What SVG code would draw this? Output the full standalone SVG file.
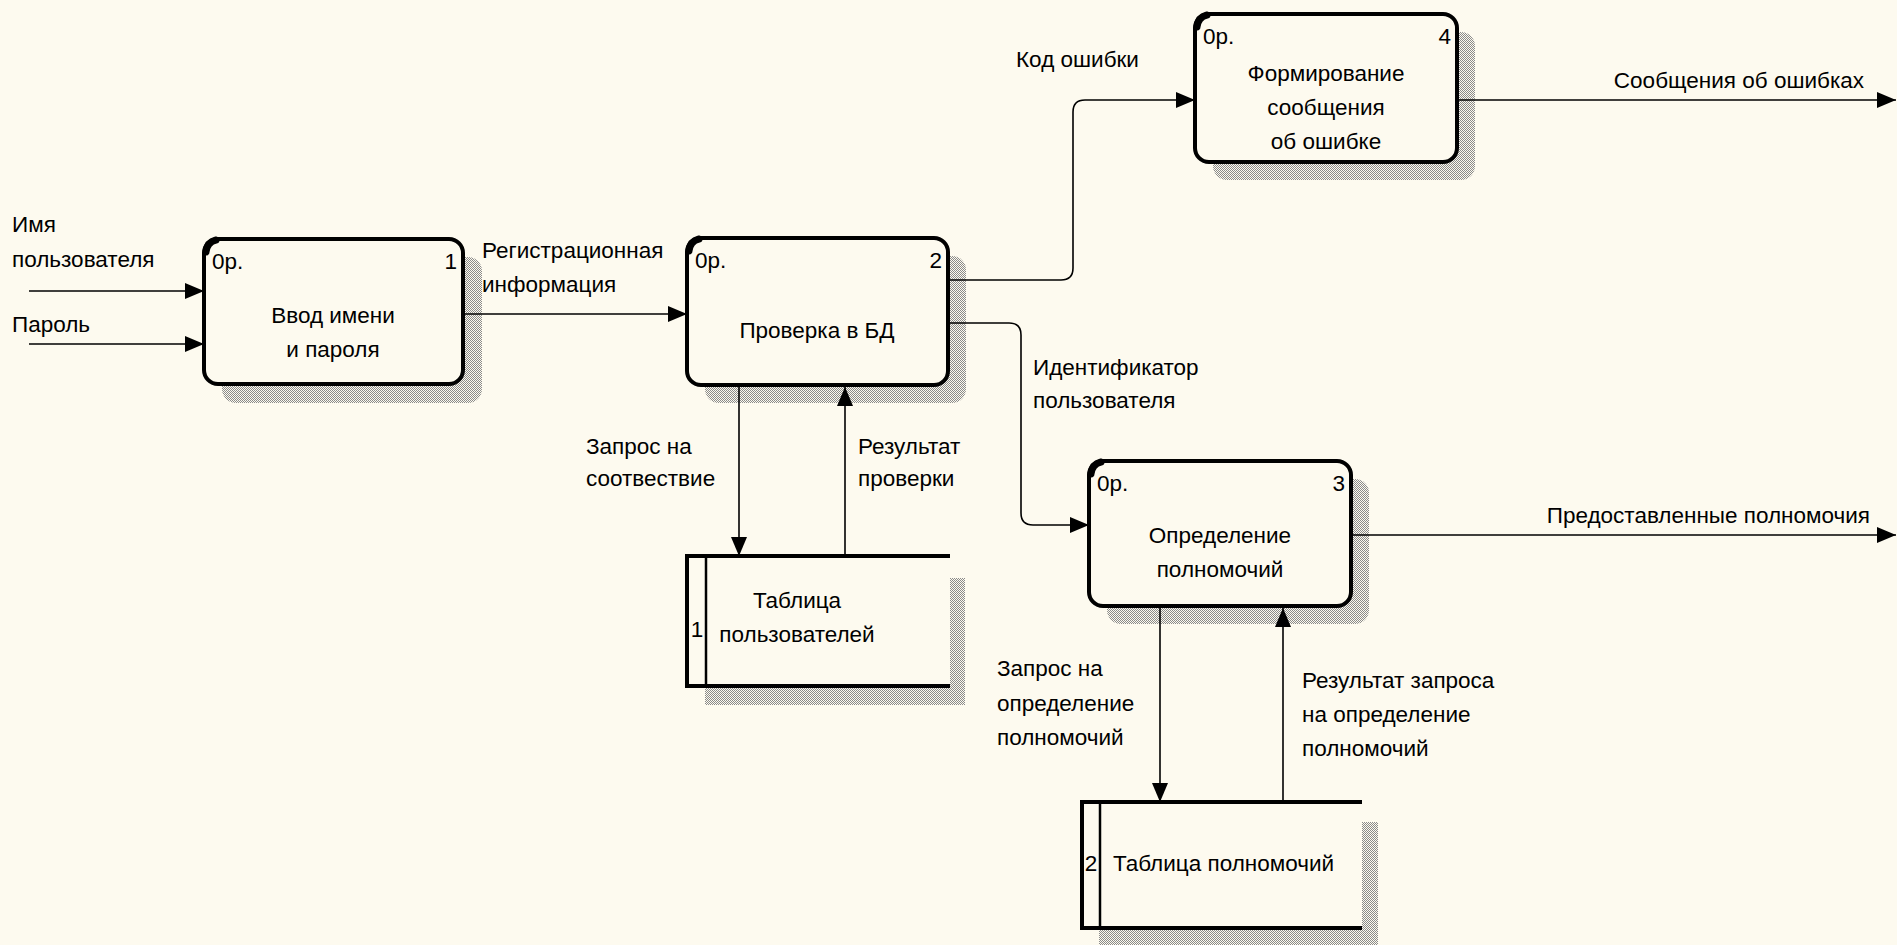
<svg xmlns="http://www.w3.org/2000/svg" width="1897" height="945" viewBox="0 0 1897 945">
<style>
text{font-family:"Liberation Sans",Arial,sans-serif;font-size:22.5px;fill:#000}
.mid{text-anchor:middle}
.end{text-anchor:end}
.box{fill:#FDFAEF;stroke:#000;stroke-width:4}
.corner{fill:none;stroke:#000;stroke-width:7;stroke-linecap:round}
.shadow{fill:url(#dither)}
.conn{fill:none;stroke:#000;stroke-width:1.6}
.arr{marker-end:url(#ah)}
.store{fill:none;stroke:#000;stroke-width:4}
.div{stroke:#000;stroke-width:2.5}
</style>
<defs>
<pattern id="dither" width="2" height="2" patternUnits="userSpaceOnUse">
<rect width="2" height="2" fill="#FDFAEF"/>
<rect width="1" height="1" fill="#8a8a8a"/>
<rect x="1" y="1" width="1" height="1" fill="#8a8a8a"/>
</pattern>
<marker id="ah" markerUnits="userSpaceOnUse" markerWidth="19" markerHeight="16" refX="19" refY="8" orient="auto">
<path d="M0,0 L19,8 L0,16 z" fill="#000"/>
</marker>
</defs>
<rect width="1897" height="945" fill="#FDFAEF"/>

<g id="node1">
<rect class="shadow" x="222" y="257" width="260" height="146" rx="14"/>
<rect class="box" x="204" y="239" width="259" height="145" rx="14"/>
<path class="corner" d="M206,252 Q207,242 216,240"/>
<text x="212" y="269">0р.</text>
<text class="end" x="457" y="269">1</text>
<text class="mid" x="333" y="323">Ввод имени</text>
<text class="mid" x="333" y="357">и пароля</text>
</g>

<g id="node2">
<rect class="shadow" x="705" y="256" width="261" height="147" rx="14"/>
<rect class="box" x="687" y="238" width="261" height="147" rx="14"/>
<path class="corner" d="M689,251 Q690,241 699,239"/>
<text x="695" y="268">0р.</text>
<text class="end" x="942" y="268">2</text>
<text class="mid" x="817" y="338">Проверка в БД</text>
</g>

<g id="node4">
<rect class="shadow" x="1213" y="32" width="262" height="148" rx="14"/>
<rect class="box" x="1195" y="14" width="262" height="148" rx="14"/>
<path class="corner" d="M1197,27 Q1198,17 1207,15"/>
<text x="1203" y="44">0р.</text>
<text class="end" x="1451" y="44">4</text>
<text class="mid" x="1326" y="81">Формирование</text>
<text class="mid" x="1326" y="115">сообщения</text>
<text class="mid" x="1326" y="149">об ошибке</text>
</g>

<g id="node3">
<rect class="shadow" x="1107" y="479" width="262" height="145" rx="14"/>
<rect class="box" x="1089" y="461" width="262" height="145" rx="14"/>
<path class="corner" d="M1091,474 Q1092,464 1101,462"/>
<text x="1097" y="491">0р.</text>
<text class="end" x="1345" y="491">3</text>
<text class="mid" x="1220" y="543">Определение</text>
<text class="mid" x="1220" y="577">полномочий</text>
</g>

<g id="store1">
<rect class="shadow" x="705" y="578" width="260" height="127"/>
<rect x="687" y="556" width="263" height="130" fill="#FDFAEF"/>
<path class="store" d="M950,556 H687 V686 H950"/>
<line class="div" x1="706" y1="556" x2="706" y2="686"/>
<text class="mid" x="697" y="637">1</text>
<text class="mid" x="797" y="608">Таблица</text>
<text class="mid" x="797" y="642">пользователей</text>
</g>

<g id="store2">
<rect class="shadow" x="1099" y="822" width="279" height="123"/>
<rect x="1082" y="802" width="280" height="126" fill="#FDFAEF"/>
<path class="store" d="M1362,802 H1082 V928 H1362"/>
<line class="div" x1="1100" y1="802" x2="1100" y2="928"/>
<text class="mid" x="1091" y="871">2</text>
<text x="1113" y="871">Таблица полномочий</text>
</g>

<g id="connectors">
<path class="conn arr" d="M29,291 H204"/>
<path class="conn arr" d="M29,344 H204"/>
<path class="conn arr" d="M463,314 H687"/>
<path class="conn arr" d="M950,280 H1061 Q1073,280 1073,268 V112 Q1073,100 1085,100 H1195"/>
<path class="conn arr" d="M950,323 H1009 Q1021,323 1021,335 V513 Q1021,525 1033,525 H1089"/>
<path class="conn arr" d="M1353,535 H1896"/>
<path class="conn arr" d="M1459,100 H1896"/>
<path class="conn arr" d="M739,387 V556"/>
<path class="conn arr" d="M845,556 V387"/>
<path class="conn arr" d="M1160,608 V802"/>
<path class="conn arr" d="M1283,802 V608"/>
</g>

<g id="labels">
<text x="12" y="232">Имя</text>
<text x="12" y="267">пользователя</text>
<text x="12" y="332">Пароль</text>
<text x="482" y="258">Регистрационная</text>
<text x="482" y="292">информация</text>
<text x="1016" y="67">Код ошибки</text>
<text class="end" x="1864" y="88">Сообщения об ошибках</text>
<text x="1033" y="375">Идентификатор</text>
<text x="1033" y="408">пользователя</text>
<text class="end" x="1870" y="523">Предоставленные полномочия</text>
<text x="586" y="454">Запрос на</text>
<text x="586" y="486">соотвествие</text>
<text x="858" y="454">Результат</text>
<text x="858" y="486">проверки</text>
<text x="997" y="676">Запрос на</text>
<text x="997" y="711">определение</text>
<text x="997" y="745">полномочий</text>
<text x="1302" y="688">Результат запроса</text>
<text x="1302" y="722">на определение</text>
<text x="1302" y="756">полномочий</text>
</g>
</svg>
